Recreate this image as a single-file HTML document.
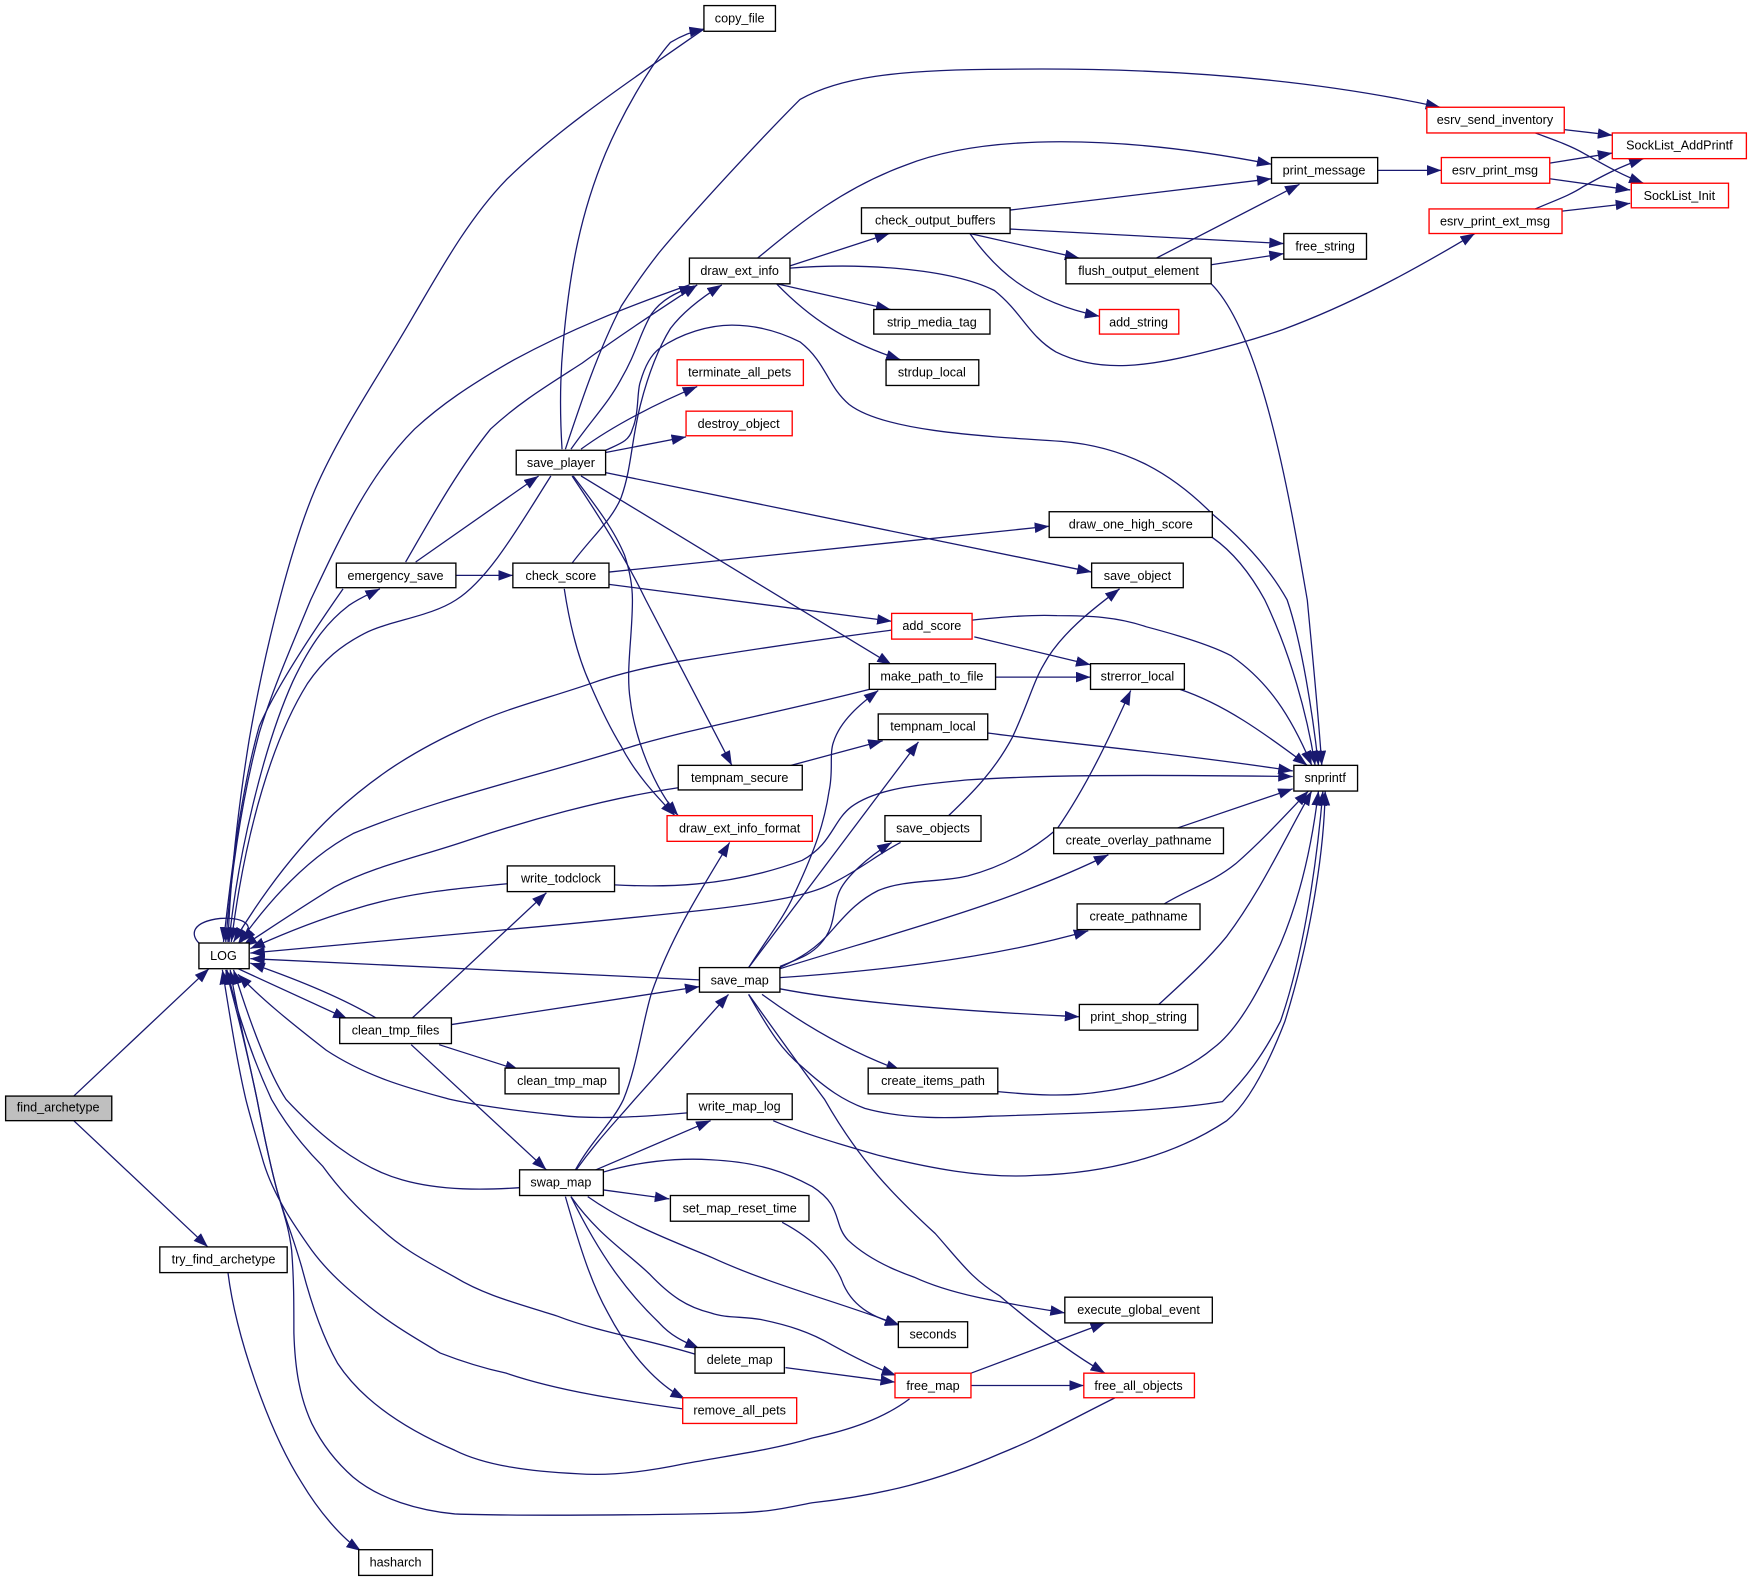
<!DOCTYPE html>
<html><head><meta charset="utf-8"><title>find_archetype call graph</title>
<style>
html,body{margin:0;padding:0;background:#fff}
svg{display:block}
text{font-family:"Liberation Sans",Arial,sans-serif;font-size:11.3px;text-anchor:middle;fill:#000}
.e path{fill:none;stroke:#191970;stroke-width:1.15}
.n rect{fill:#fff;stroke:#000;stroke-width:1.2}
.n rect.r{stroke:#f00}
</style></head><body>
<svg xmlns="http://www.w3.org/2000/svg" width="1752" height="1583" viewBox="0 0 1568 1416.8">
<defs><marker id="a" markerUnits="userSpaceOnUse" markerWidth="14" markerHeight="11" refX="13" refY="4.75" orient="auto"><path d="M0,0L13,4.75L0,9.5z" fill="#191970"/></marker></defs>
<g class="e" marker-end="url(#a)">
<path d="M66,981L187,867"/>
<path d="M66,1003L186,1116"/>
<path d="M204,1139C211,1195 240,1280 270,1327C285,1352 305,1376 323,1388"/>
<path d="M178,844C170,836 172,825 197,822C215,821 232,826 216,843"/>
<path d="M630,26C560,75 500,115 453,161C420,195 395,240 371,281C340,335 305,385 282,438C262,485 238,575 223,662C212,730 206,790 204,843"/>
<path d="M617,255C560,275 510,295 460,322C420,345 395,362 371,384C330,425 305,480 278,537C258,585 243,620 232,656C215,720 206,790 202,843"/>
<path d="M307,527C270,580 245,620 232,650C215,710 206,790 200,843"/>
<path d="M205,843C212,770 235,670 262,610C280,572 295,555 312,542C322,535 330,532 340,527"/>
<path d="M493,426C465,470 438,518 408,537C385,552 350,555 326,567C305,578 290,590 275,612C245,660 220,740 207,843"/>
<path d="M798,564C720,574 650,585 607,592C580,597 550,604 528,612C490,625 450,635 419,650C370,672 335,695 299,728C265,760 235,800 209,843"/>
<path d="M778,617C700,637 620,652 566,668C480,695 390,715 316,746C280,765 245,800 213,845"/>
<path d="M607,705C540,715 470,735 419,752C375,767 335,775 299,794C265,815 240,832 217,847"/>
<path d="M454,791C400,796 360,800 316,814C285,823 255,835 224,849"/>
<path d="M806,754C785,765 770,778 746,790C725,802 680,809 626,815C560,822 510,827 453,832C380,839 300,846 224,853"/>
<path d="M626,877L224,858"/>
<path d="M338,912C310,895 270,878 224,862"/>
<path d="M213,867L311,912"/>
<path d="M465,1063C435,1065 395,1066 360,1056C320,1045 285,1015 256,984C240,960 222,910 209,868"/>
<path d="M615,996C570,1000 530,1002 499,998C460,994 430,990 403,984C370,975 330,965 292,940C260,915 235,895 213,872"/>
<path d="M622,1212C580,1199 535,1192 499,1178C465,1167 435,1160 407,1143C380,1128 360,1118 339,1098C318,1080 302,1062 289,1044C270,1025 255,1005 243,984C225,945 212,905 203,868"/>
<path d="M611,1261C555,1253 500,1245 453,1229C430,1224 412,1218 394,1211C372,1198 350,1185 330,1169C310,1153 293,1138 279,1119C262,1095 245,1070 236,1041C230,1020 224,1000 220,984C212,950 205,905 199,868"/>
<path d="M814,1252C790,1270 760,1280 727,1287C690,1298 650,1303 613,1310C580,1317 545,1321 517,1319C475,1317 435,1312 407,1298C365,1280 325,1255 302,1220C288,1195 278,1165 270,1134C260,1100 253,1085 247,1062C240,1035 235,1010 230,984C222,945 212,905 202,868"/>
<path d="M998,1251C950,1275 930,1287 895,1301C840,1325 790,1338 727,1345C700,1350 690,1353 660,1354C590,1356 460,1357 407,1355C375,1352 340,1342 316,1322C300,1308 288,1292 279,1274C268,1250 264,1225 263,1193C263,1165 263,1145 261,1119C258,1095 253,1085 247,1062C240,1035 235,1010 230,984C222,945 212,905 206,868"/>
<path d="M503,402C501,370 501,340 504,308C510,240 520,190 542,137C560,95 585,55 600,38C610,32 620,28 630,26"/>
<path d="M506,402C520,360 535,315 556,274C565,260 575,245 590,226C620,190 680,125 716,89C750,70 800,62 900,62C1050,60 1180,72 1289,96"/>
<path d="M511,402C530,375 545,360 556,339C570,315 572,300 583,281C592,268 605,262 621,256"/>
<path d="M520,402C550,380 590,360 624,346"/>
<path d="M542,405L614,391"/>
<path d="M542,403C555,397 563,395 566,384C572,370 570,350 573,342C577,328 582,318 590,312C610,298 635,291 655,291C680,291 700,298 716,306C740,325 740,345 760,362C790,385 870,390 950,395C1010,400 1050,425 1085,460C1115,485 1137,510 1152,537C1165,575 1175,640 1180,685"/>
<path d="M542,423L977,512"/>
<path d="M520,426L798,595"/>
<path d="M512,426C535,460 560,500 578,537L655,685"/>
<path d="M513,426C535,455 550,475 559,497C565,515 566,530 566,537C566,570 560,600 564,626C568,660 585,705 607,730"/>
<path d="M505,527C510,560 518,590 528,612C540,640 548,655 556,668C570,695 590,715 604,730"/>
<path d="M372,503L482,426"/>
<path d="M408,515H459"/>
<path d="M512,504C530,480 548,465 556,445C565,420 565,395 573,363C580,335 590,310 600,294C612,278 630,265 646,255"/>
<path d="M545,512L939,471"/>
<path d="M545,523L798,556"/>
<path d="M363,503C385,465 410,420 439,384C465,360 490,345 521,325C555,300 590,277 624,255"/>
<path d="M872,570L976,595"/>
<path d="M870,555C900,552 925,550 946,551C975,551 1000,552 1026,561C1060,570 1085,578 1102,587C1135,610 1155,640 1174,685"/>
<path d="M891,606H976"/>
<path d="M708,685L790,663"/>
<path d="M884,656C950,665 1060,675 1157,690"/>
<path d="M1056,617C1095,630 1130,655 1170,685"/>
<path d="M550,792C590,794 650,795 718,770C745,755 745,735 762,722C785,705 825,702 866,698C930,694 1000,693 1157,695"/>
<path d="M670,866C690,835 702,820 710,802C730,760 738,735 742,708C746,690 742,675 746,664C752,645 770,630 786,618"/>
<path d="M670,866L822,664"/>
<path d="M698,865C715,858 725,855 734,845C748,830 745,815 750,801C755,785 780,765 798,754"/>
<path d="M698,866C715,858 730,850 746,831C760,815 770,805 786,797C810,787 840,790 866,784C900,775 925,760 946,742C975,700 995,655 1012,618"/>
<path d="M698,867C800,835 900,810 992,765"/>
<path d="M698,875C770,870 880,860 974,833"/>
<path d="M698,885C760,897 860,905 966,910"/>
<path d="M682,890C730,925 770,945 806,958"/>
<path d="M670,890C695,925 720,960 738,984C770,1040 800,1070 837,1104C860,1130 870,1145 895,1160C930,1190 960,1212 989,1229"/>
<path d="M670,890C690,925 700,940 718,955C740,975 755,985 774,992C810,1002 850,1001 886,999C950,997 1040,995 1094,986C1115,965 1130,945 1146,914C1165,860 1178,780 1184,708"/>
<path d="M893,977C925,980 955,982 986,977C1025,972 1060,960 1086,938C1110,920 1130,880 1146,845C1165,800 1175,750 1180,708"/>
<path d="M692,1003C720,1015 755,1025 786,1034C830,1045 880,1055 926,1052C990,1050 1050,1035 1098,1003C1120,985 1138,945 1150,914C1170,850 1185,770 1186,708"/>
<path d="M1036,900C1060,878 1080,860 1098,838C1130,795 1150,750 1174,708"/>
<path d="M1042,809C1065,795 1085,790 1106,773C1130,752 1150,730 1171,708"/>
<path d="M1054,741L1157,706"/>
<path d="M849,730C870,710 890,690 906,660C920,630 925,610 934,595C950,565 985,540 1002,527"/>
<path d="M1085,481C1105,495 1120,515 1132,537C1155,585 1170,640 1177,685"/>
<path d="M1084,254C1130,300 1155,450 1170,537C1175,590 1180,640 1183,685"/>
<path d="M368,935L489,1047"/>
<path d="M404,917L626,883"/>
<path d="M368,912L489,799"/>
<path d="M393,935L465,958"/>
<path d="M531,1048L636,1003"/>
<path d="M515,1048C535,1020 550,1005 568,984L652,890"/>
<path d="M515,1047C530,1020 548,1005 558,984C570,955 575,915 583,889C600,840 625,800 653,754"/>
<path d="M540,1049C570,1040 605,1036 636,1038C680,1040 705,1050 727,1062C755,1080 745,1095 759,1110C775,1125 795,1135 818,1143C850,1158 890,1165 953,1175"/>
<path d="M540,1065L599,1073"/>
<path d="M526,1071C560,1095 600,1110 636,1125C690,1150 750,1165 805,1186"/>
<path d="M700,1094C730,1110 748,1130 755,1150C765,1172 785,1180 805,1186"/>
<path d="M511,1071C535,1105 560,1120 581,1140C600,1160 615,1170 636,1175C650,1180 665,1178 681,1181C705,1186 725,1192 745,1204C765,1215 785,1225 802,1231"/>
<path d="M511,1071C540,1130 565,1160 590,1184C600,1195 610,1200 626,1207"/>
<path d="M506,1071C520,1120 530,1150 544,1175C565,1215 590,1240 613,1252"/>
<path d="M703,1224L801,1237"/>
<path d="M869,1229L989,1184"/>
<path d="M869,1240H970"/>
<path d="M707,238L796,209"/>
<path d="M678,231C710,205 750,170 810,148C880,120 1000,120 1138,147"/>
<path d="M695,254L797,277"/>
<path d="M695,254C725,285 755,305 806,322"/>
<path d="M707,240C770,235 850,240 890,260C915,280 920,300 945,315C985,335 1030,327 1075,316C1100,310 1125,303 1148,295C1210,272 1265,242 1320,209"/>
<path d="M904,188L1138,160"/>
<path d="M904,205L1149,218"/>
<path d="M868,209L966,231"/>
<path d="M868,209C890,240 920,270 984,283"/>
<path d="M1035,231L1163,165"/>
<path d="M1084,237L1149,227"/>
<path d="M1233,152.5H1290"/>
<path d="M1387,146L1443,137"/>
<path d="M1387,160L1459,170"/>
<path d="M1398,189L1459,182"/>
<path d="M1374,187C1390,180 1405,175 1417,167C1435,157 1450,149 1471,142"/>
<path d="M1400,116L1443,121"/>
<path d="M1374,119C1390,125 1405,130 1417,137C1435,147 1450,156 1471,164"/>
</g>
<g class="n">
<rect x="5" y="981" width="95" height="22" style="fill:#bfbfbf"/><text x="52" y="995">find_archetype</text>
<rect x="178" y="844" width="45" height="23"/><text x="200" y="859">LOG</text>
<rect x="143" y="1116" width="114" height="23"/><text x="200" y="1131">try_find_archetype</text>
<rect x="321" y="1387" width="66" height="23"/><text x="354" y="1402">hasharch</text>
<rect x="630" y="5" width="64" height="23"/><text x="662" y="20">copy_file</text>
<rect class="r" x="1277" y="96" width="123" height="23"/><text x="1338" y="111">esrv_send_inventory</text>
<rect class="r" x="1443" y="119" width="120" height="23"/><text x="1503" y="134">SockList_AddPrintf</text>
<rect class="r" x="1460" y="164" width="87" height="22"/><text x="1503" y="179">SockList_Init</text>
<rect x="1138" y="141" width="95" height="23"/><text x="1185" y="156">print_message</text>
<rect class="r" x="1290" y="141" width="97" height="23"/><text x="1338" y="156">esrv_print_msg</text>
<rect class="r" x="1279" y="187" width="119" height="22"/><text x="1338" y="202">esrv_print_ext_msg</text>
<rect x="1149" y="209" width="74" height="23"/><text x="1186" y="224">free_string</text>
<rect x="771" y="186" width="133" height="23"/><text x="837" y="201">check_output_buffers</text>
<rect x="954" y="231" width="130" height="23"/><text x="1019" y="246">flush_output_element</text>
<rect x="617" y="231" width="90" height="23"/><text x="662" y="246">draw_ext_info</text>
<rect x="782" y="277" width="104" height="22"/><text x="834" y="292">strip_media_tag</text>
<rect class="r" x="984" y="277" width="71" height="22"/><text x="1019" y="292">add_string</text>
<rect x="793" y="322" width="83" height="23"/><text x="834" y="337">strdup_local</text>
<rect class="r" x="606" y="322" width="113" height="23"/><text x="662" y="337">terminate_all_pets</text>
<rect class="r" x="614" y="368" width="95" height="22"/><text x="661" y="383">destroy_object</text>
<rect x="462" y="403" width="80" height="22"/><text x="502" y="418">save_player</text>
<rect x="459" y="504" width="86" height="22"/><text x="502" y="519">check_score</text>
<rect x="301" y="504" width="107" height="22"/><text x="354" y="519">emergency_save</text>
<rect x="939" y="458" width="146" height="23"/><text x="1012" y="473">draw_one_high_score</text>
<rect x="977" y="504" width="82" height="22"/><text x="1018" y="519">save_object</text>
<rect class="r" x="798" y="549" width="72" height="23"/><text x="834" y="564">add_score</text>
<rect x="778" y="594" width="113" height="23"/><text x="834" y="609">make_path_to_file</text>
<rect x="976" y="594" width="84" height="23"/><text x="1018" y="609">strerror_local</text>
<rect x="786" y="639" width="98" height="23"/><text x="835" y="654">tempnam_local</text>
<rect x="607" y="685" width="111" height="22"/><text x="662" y="700">tempnam_secure</text>
<rect x="1158" y="685" width="57" height="23"/><text x="1186" y="700">snprintf</text>
<rect class="r" x="597" y="730" width="130" height="23"/><text x="662" y="745">draw_ext_info_format</text>
<rect x="792" y="730" width="86" height="23"/><text x="835" y="745">save_objects</text>
<rect x="943" y="741" width="152" height="23"/><text x="1019" y="756">create_overlay_pathname</text>
<rect x="454" y="775" width="96" height="23"/><text x="502" y="790">write_todclock</text>
<rect x="964" y="809" width="110" height="23"/><text x="1019" y="824">create_pathname</text>
<rect x="626" y="866" width="72" height="22"/><text x="662" y="881">save_map</text>
<rect x="966" y="899" width="106" height="23"/><text x="1019" y="914">print_shop_string</text>
<rect x="304" y="911" width="100" height="23"/><text x="354" y="926">clean_tmp_files</text>
<rect x="452" y="956" width="102" height="23"/><text x="503" y="971">clean_tmp_map</text>
<rect x="777" y="956" width="116" height="23"/><text x="835" y="971">create_items_path</text>
<rect x="615" y="979" width="94" height="23"/><text x="662" y="994">write_map_log</text>
<rect x="465" y="1047" width="75" height="23"/><text x="502" y="1062">swap_map</text>
<rect x="600" y="1070" width="124" height="23"/><text x="662" y="1085">set_map_reset_time</text>
<rect x="953" y="1161" width="132" height="23"/><text x="1019" y="1176">execute_global_event</text>
<rect x="804" y="1183" width="62" height="23"/><text x="835" y="1198">seconds</text>
<rect x="622" y="1206" width="80" height="23"/><text x="662" y="1221">delete_map</text>
<rect class="r" x="801" y="1229" width="68" height="22"/><text x="835" y="1244">free_map</text>
<rect class="r" x="970" y="1229" width="99" height="22"/><text x="1019" y="1244">free_all_objects</text>
<rect class="r" x="611" y="1251" width="102" height="23"/><text x="662" y="1266">remove_all_pets</text>
</g>
</svg>
</body></html>
